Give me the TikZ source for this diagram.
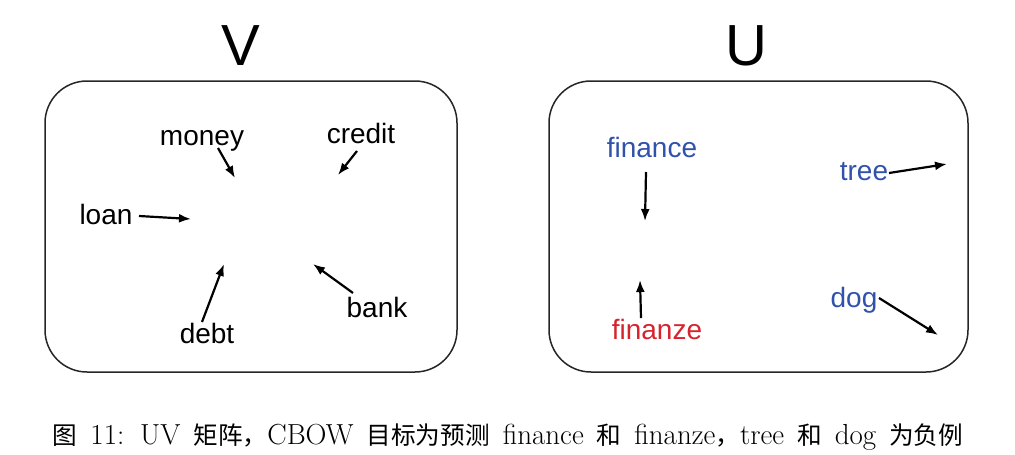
\documentclass[tikz,border=0pt]{standalone}
\usepackage{fontspec}
\newfontfamily\arialfont{Liberation Sans}
\newfontfamily\cjk{Noto Sans CJK SC}[Scale=0.85]
\usetikzlibrary{arrows.meta}
\definecolor{wordblue}{RGB}{48,82,170}
\definecolor{wordred}{RGB}{215,35,45}
\newcommand\capfont{\fontsize{29}{32}\selectfont\spaceskip=13pt plus 1pt minus 1pt\relax}
\begin{document}
\begin{tikzpicture}[x=1pt,y=-1pt,
  panel/.style={draw=black!85, line width=1.5pt, rounded corners=42pt},
  word/.style={font=\arialfont\fontsize{28}{32}\selectfont, inner sep=1pt, anchor=base},
  title/.style={font=\arialfont\fontsize{58}{62}\selectfont, inner sep=0pt},
  arr/.style={-{Latex[length=12pt,width=9pt]}, line width=2.2pt},
  caption/.style={font=\capfont, inner sep=0pt}]
\useasboundingbox (0,0) rectangle (1015,455);
% panels
\draw[panel] (45,81) rectangle (457,372);
\draw[panel] (549,81) rectangle (968,372);
% titles
\node[title] (V) at (241,46) {V};
\node[title] (U) at (746,46) {U};
% V panel words
\node[word] (money) at (202,145) {money};
\node[word] (credit) at (361,143) {credit};
\node[word] (loan) at (106,224) {loan};
\node[word] (debt) at (207,343) {debt};
\node[word] (bank) at (377,317) {bank};
\coordinate (moneyS) at (218,148);
\coordinate (moneyE) at (235,178);
\coordinate (creditS) at (357,151);
\coordinate (creditE) at (338,175);
\coordinate (loanS) at (139,216);
\coordinate (loanE) at (191,219);
\coordinate (debtS) at (202,322);
\coordinate (debtE) at (224,264);
\coordinate (bankS) at (353,293);
\coordinate (bankE) at (313,264);
\draw[arr] (moneyS) -- (moneyE);
\draw[arr] (creditS) -- (creditE);
\draw[arr] (loanS) -- (loanE);
\draw[arr] (debtS) -- (debtE);
\draw[arr] (bankS) -- (bankE);
% U panel words
\node[word, text=wordblue] (finance) at (652,157) {finance};
\node[word, text=wordred] (finanze) at (657,339) {finanze};
\node[word, text=wordblue] (tree) at (864,180) {tree};
\node[word, text=wordblue] (dog) at (854,307) {dog};
\coordinate (financeS) at (646,172);
\coordinate (financeE) at (645,221);
\coordinate (finanzeS) at (641,318);
\coordinate (finanzeE) at (640,280);
\coordinate (treeS) at (889,173);
\coordinate (treeE) at (947,164);
\coordinate (dogS) at (879,298);
\coordinate (dogE) at (938,335);
\draw[arr] (financeS) -- (financeE);
\draw[arr] (finanzeS) -- (finanzeE);
\draw[arr] (treeS) -- (treeE);
\draw[arr] (dogS) -- (dogE);
% caption
\node[caption] (cap) at (508,437) {{\cjk 图} 11: UV {\cjk 矩阵，}CBOW {\cjk 目标为预测} finance {\cjk 和} finanze{\cjk ，}tree {\cjk 和} dog {\cjk 为负例}};
\end{tikzpicture}
\end{document}
